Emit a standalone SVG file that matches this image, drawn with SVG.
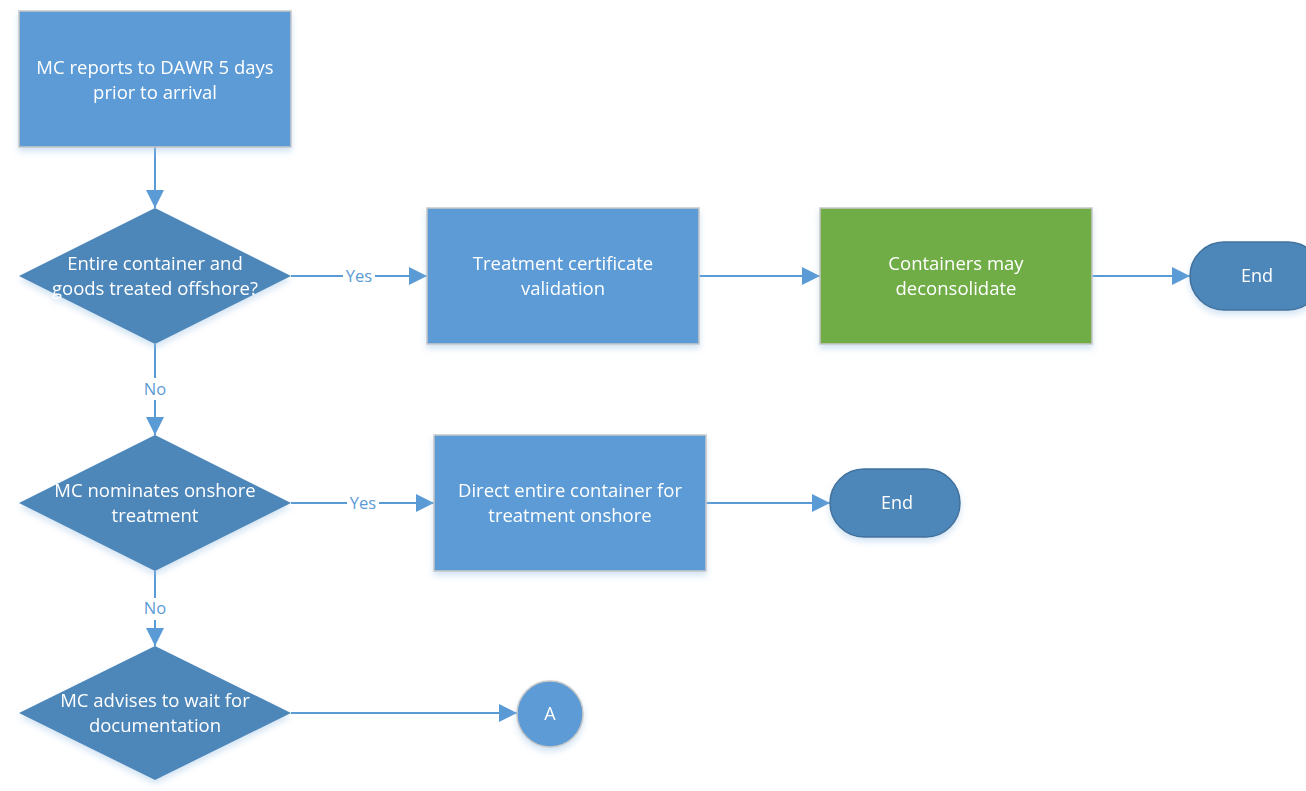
<svg xmlns="http://www.w3.org/2000/svg" width="1306" height="791" viewBox="0 0 1306 791">
<style>
.box{fill:#5B9BD5;stroke:#C8C8C8;stroke-width:1.5}
.green{fill:#70AD47;stroke:#C8C8C8;stroke-width:1.5}
.dia{fill:#4E87BA;stroke:none}
.term{fill:#4E87BA;stroke:#41719C;stroke-width:1.5}
.circ{fill:#5B9BD5;stroke:#C8C8C8;stroke-width:1.5}
.t{font-family:"Open Sans","Liberation Sans",sans-serif;font-size:18.5px;fill:#FFFFFF;text-anchor:middle}
.s{font-size:18px}
.lbl{font-family:"Open Sans","Liberation Sans",sans-serif;font-size:16.5px;fill:#5B9BD5;text-anchor:middle}
.c{stroke:#5B9BD5;stroke-width:2;fill:none}
</style>
<defs>
<marker id="a" markerWidth="18" markerHeight="18" refX="18" refY="9" orient="auto" markerUnits="userSpaceOnUse" viewBox="0 0 18 18">
<path d="M0,0 L18,9 L0,18 z" fill="#5B9BD5"/>
</marker>
<filter id="sh" x="-10%" y="-10%" width="120%" height="130%">
<feDropShadow dx="0" dy="4" stdDeviation="3" flood-color="#9DC3E6" flood-opacity="0.45"/>
</filter>
</defs>
<rect width="1306" height="791" fill="#FFFFFF"/>
<g id="connectors">
<line class="c" x1="155" y1="147" x2="155" y2="208" marker-end="url(#a)"/>
<line class="c" x1="291" y1="276" x2="427" y2="276" marker-end="url(#a)"/>
<line class="c" x1="699" y1="276" x2="820" y2="276" marker-end="url(#a)"/>
<line class="c" x1="1092" y1="276" x2="1190" y2="276" marker-end="url(#a)"/>
<line class="c" x1="155" y1="344" x2="155" y2="435" marker-end="url(#a)"/>
<line class="c" x1="291" y1="503" x2="434" y2="503" marker-end="url(#a)"/>
<line class="c" x1="706" y1="503" x2="830" y2="503" marker-end="url(#a)"/>
<line class="c" x1="155" y1="571" x2="155" y2="646" marker-end="url(#a)"/>
<line class="c" x1="291" y1="713" x2="517" y2="713" marker-end="url(#a)"/>
<rect x="343" y="266" width="32" height="20" fill="#FFFFFF"/>
<text class="lbl" x="359" y="282">Yes</text>
<rect x="143" y="378" width="24" height="22" fill="#FFFFFF"/>
<text class="lbl" x="155" y="395">No</text>
<rect x="347" y="493" width="32" height="20" fill="#FFFFFF"/>
<text class="lbl" x="363" y="509">Yes</text>
<rect x="143" y="598" width="24" height="22" fill="#FFFFFF"/>
<text class="lbl" x="155" y="614">No</text>
</g>
<g id="n1" filter="url(#sh)">
<rect class="box" x="19" y="11" width="272" height="136"/>
<text class="t" x="155" y="74">MC reports to DAWR 5 days</text>
<text class="t" x="155" y="99">prior to arrival</text>
</g>
<g id="d1" filter="url(#sh)">
<polygon class="dia" points="155,208 291,276 155,344 19,276"/>
<text class="t" x="155" y="270">Entire container and</text>
<text class="t" x="155" y="295">goods treated offshore?</text>
</g>
<g id="n2" filter="url(#sh)">
<rect class="box" x="427" y="208" width="272" height="136"/>
<text class="t" x="563" y="270">Treatment certificate</text>
<text class="t" x="563" y="295">validation</text>
</g>
<g id="n3" filter="url(#sh)">
<rect class="green" x="820" y="208" width="272" height="136"/>
<text class="t" x="956" y="270">Containers may</text>
<text class="t" x="956" y="295">deconsolidate</text>
</g>
<g id="end1" filter="url(#sh)">
<rect class="term" x="1190" y="242" width="132" height="68" rx="34" ry="34"/>
<text class="t s" x="1257" y="282">End</text>
</g>
<g id="d2" filter="url(#sh)">
<polygon class="dia" points="155,435 291,503 155,571 19,503"/>
<text class="t" x="155" y="497">MC nominates onshore</text>
<text class="t" x="155" y="522">treatment</text>
</g>
<g id="n4" filter="url(#sh)">
<rect class="box" x="434" y="435" width="272" height="136"/>
<text class="t" x="570" y="497">Direct entire container for</text>
<text class="t" x="570" y="522">treatment onshore</text>
</g>
<g id="end2" filter="url(#sh)">
<rect class="term" x="830" y="469" width="130" height="68" rx="34" ry="34"/>
<text class="t s" x="897" y="509">End</text>
</g>
<g id="d3" filter="url(#sh)">
<polygon class="dia" points="155,646 291,713 155,780 19,713"/>
<text class="t" x="155" y="707">MC advises to wait for</text>
<text class="t" x="155" y="732">documentation</text>
</g>
<g id="a1" filter="url(#sh)">
<circle class="circ" cx="550" cy="714" r="33"/>
<text class="t s" x="550" y="720">A</text>
</g>
</svg>
